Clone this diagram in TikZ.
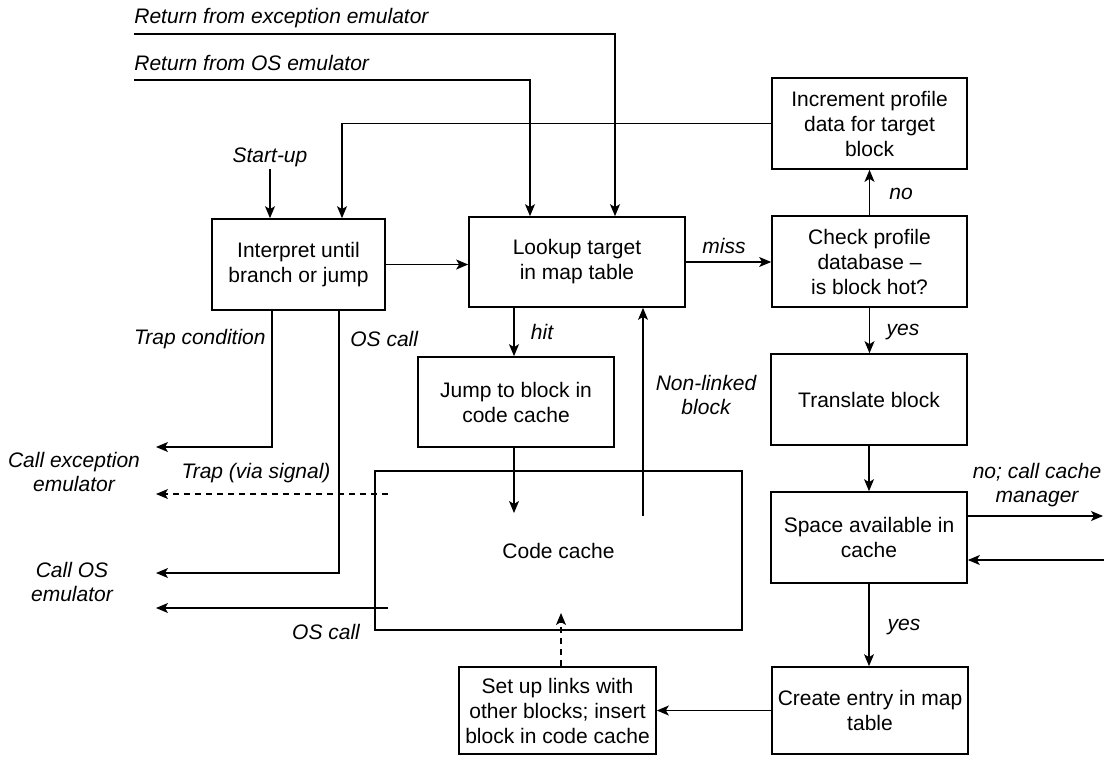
\documentclass[tikz,border=0pt]{standalone}
\usepackage{fontspec}
\setmainfont{Liberation Sans}
\usepackage{tikz}
\usetikzlibrary{arrows.meta,calc}
\tikzset{
  procbox/.style={draw, line width=0.85pt, minimum width=98pt, minimum height=45.5pt, inner sep=1pt,
    align=center, font=\fontsize{10.5}{12.5}\selectfont},
  flowarrow/.style={-{Stealth[length=6pt,width=5pt,inset=1.5pt]}, line width=0.55pt},
  trapline/.style={flowarrow, dash pattern=on 3pt off 2.5pt},
  edgelabel/.style={font=\fontsize{10.5}{12}\selectfont\itshape, inner sep=1pt, align=center},
}

\begin{document}
\begin{tikzpicture}[x=0.5pt,y=-0.5pt]
  \useasboundingbox (0,0) rectangle (1107,756);
  \node[procbox, minimum width=86.5pt] (interp) at (298.5,264.5) {Interpret until\\branch or jump};
  \node[procbox, minimum width=108pt, minimum height=45pt] (lookup) at (577,262) {Lookup target\\in map table};
  \node[procbox, minimum width=97.5pt] (check) at (869.5,261.5) {Check profile\\database --\\is block hot?};
  \node[procbox, minimum width=97.5pt] (incr) at (869.5,123.5) {Increment profile\\data for target\\block};
  \node[procbox, minimum height=45pt] (jump) at (516,402) {Jump to block in\\code cache};
  \node[procbox] (transl) at (869,399.5) {Translate block};
  \node[procbox, minimum width=183.5pt, minimum height=79.5pt] (cache) at (558.5,550.5) {Code cache};
  \node[procbox] (space) at (869,537.5) {Space available in\\cache};
  \node[procbox, minimum height=43.5pt] (create) at (870,710.5) {Create entry in map\\table};
  \node[procbox, minimum width=98.5pt, minimum height=43.5pt] (setup) at (557.5,710.5) {Set up links with\\other blocks; insert\\block in code cache};

  \node[edgelabel, anchor=west] (rexctxt) at (132,18) {Return from exception emulator};
  \node[edgelabel, anchor=west] (rostxt) at (132,63) {Return from OS emulator};
  \node[edgelabel] (startup) at (270,157) {Start-up};
  \node[edgelabel] (misstxt) at (724,246) {miss};
  \node[edgelabel] (notxt) at (901,194) {no};
  \node[edgelabel] (hittxt) at (542,332) {hit};
  \node[edgelabel] (yestxt) at (903,332) {yes};
  \node[edgelabel] (nonlinked) at (706,395) {Non-linked\\block};
  \node[edgelabel] (mgrtxt) at (1037,485) {no; call cache\\manager};
  \node[edgelabel] (yes2txt) at (904,627) {yes};
  \node[edgelabel, anchor=east] (traptxt) at (268,339) {Trap condition};
  \node[edgelabel, anchor=west] (oscalltxt) at (348,339) {OS call};
  \node[edgelabel] (excemutxt) at (74,472) {Call exception\\emulator};
  \node[edgelabel] (sigtxt) at (256,473) {Trap (via signal)};
  \node[edgelabel] (osemutxt) at (72,582) {Call OS\\emulator};
  \node[edgelabel] (oscall2txt) at (326,632) {OS call};

  \coordinate (rexc) at (134,34);
  \coordinate (ros) at (134,80);
  \coordinate (hitin) at (514,513);
  \coordinate (nlout) at (643,516);
  \coordinate (mgrout) at (1103,516);
  \coordinate (mgrin) at (1104,560);
  \coordinate (linkin) at (561,613);
  \coordinate (excemu) at (156,447);
  \coordinate (osemu) at (156,573);
  \coordinate (trapsig) at (388,494);
  \coordinate (oscall) at (388,608);

  \draw[flowarrow] (rexc) -| ([xshift=19pt]lookup.north);
  \draw[flowarrow] (ros) -| ([xshift=-23.5pt]lookup.north);
  \draw[flowarrow] (incr.west) -| ([xshift=21.75pt]interp.north);
  \draw[flowarrow] (startup.south) -- (startup.south |- interp.north);
  \draw[flowarrow] (interp.east) -- (interp.east -| lookup.west);
  \draw[flowarrow] (lookup.east) -- (lookup.east -| check.west);
  \draw[flowarrow] (check.north) -- (incr.south);
  \draw[flowarrow] (hitin |- lookup.south) -- (hitin |- jump.north);
  \draw[flowarrow] (hitin |- jump.south) -- (hitin);
  \draw[flowarrow] (nlout) -- (nlout |- lookup.south);
  \draw[flowarrow] (check.south) -- (check.south |- transl.north);
  \draw[flowarrow] (transl.south) -- (space.north);
  \draw[flowarrow] (space.east |- mgrout) -- (mgrout);
  \draw[flowarrow] (mgrin) -- (mgrin -| space.east);
  \draw[flowarrow] (space.south) -- (space.south |- create.north);
  \draw[flowarrow] (create.west) -- (create.west -| setup.east);
  \draw[trapline] (linkin |- setup.north) -- (linkin);
  \draw[flowarrow] ([xshift=-13.25pt]interp.south) |- (excemu);
  \draw[flowarrow] ([xshift=20.25pt]interp.south) |- (osemu);
  \draw[trapline] (trapsig) -- (trapsig -| excemu);
  \draw[flowarrow] (oscall) -- (oscall -| osemu);
\end{tikzpicture}
\end{document}
